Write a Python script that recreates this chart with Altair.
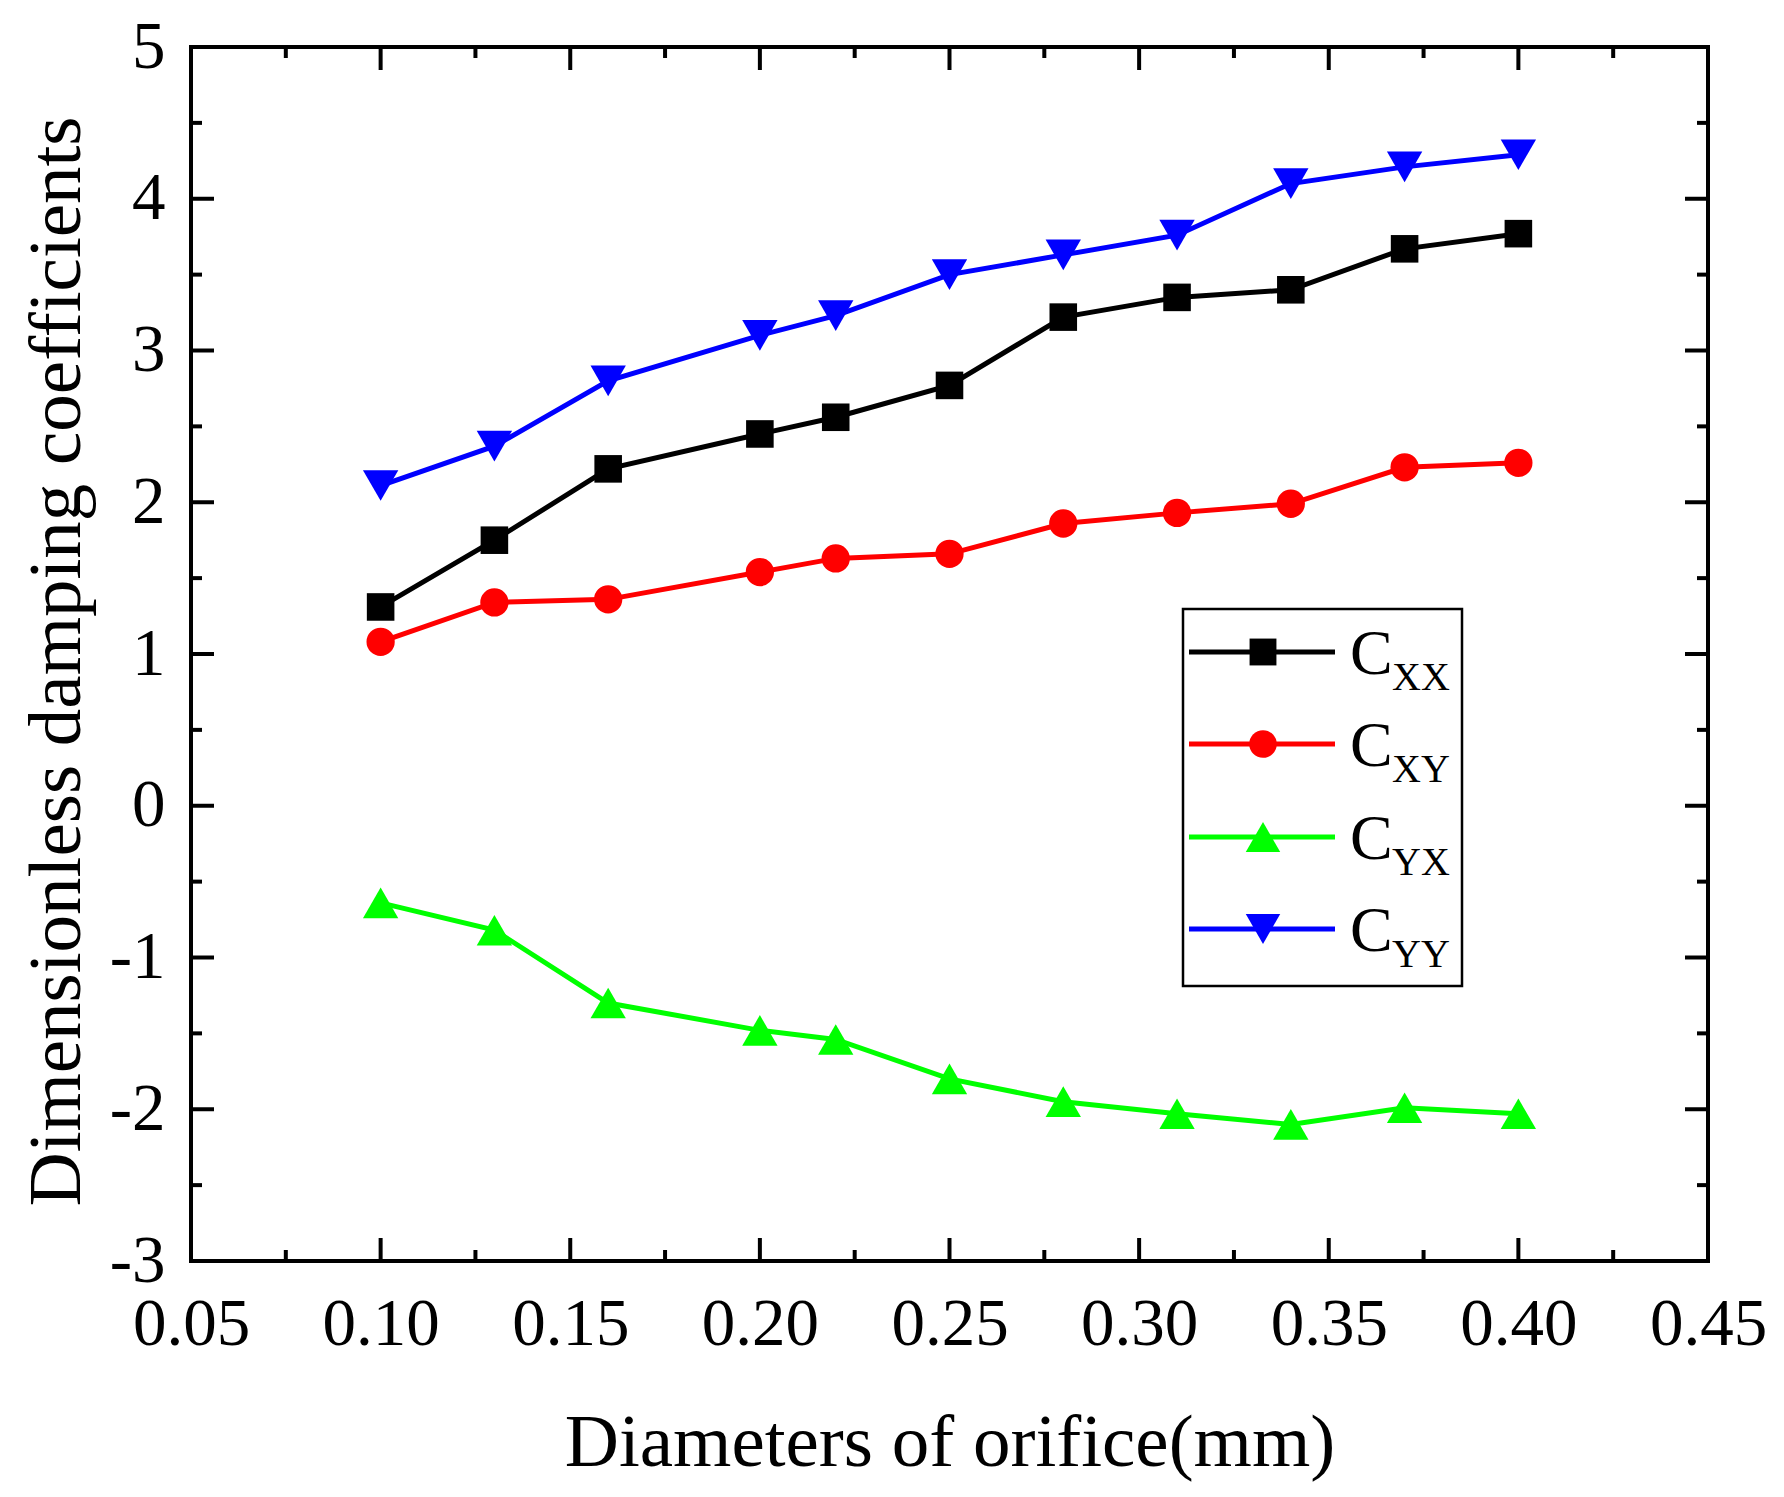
import altair as alt
import pandas as pd

# Orifice diameters (mm) and the four dimensionless damping coefficients
diameters = [0.10, 0.13, 0.16, 0.20, 0.22, 0.25, 0.28, 0.31, 0.34, 0.37, 0.40]
c_xx = [1.31, 1.75, 2.22, 2.45, 2.56, 2.77, 3.22, 3.35, 3.40, 3.67, 3.77]
c_xy = [1.08, 1.34, 1.36, 1.54, 1.63, 1.66, 1.86, 1.93, 1.99, 2.23, 2.26]
c_yx = [-0.64, -0.82, -1.30, -1.48, -1.54, -1.80, -1.95, -2.03, -2.10, -1.99, -2.03]
c_yy = [2.11, 2.37, 2.80, 3.10, 3.23, 3.50, 3.63, 3.76, 4.10, 4.21, 4.29]

series_names = ["CXX", "CXY", "CYX", "CYY"]
series_subs = ["XX", "XY", "YX", "YY"]
series_colors = ["#000000", "#FF0000", "#00FF00", "#0000FF"]
series_shapes = ["square", "circle", "triangle-up", "triangle-down"]
series_sizes = [760, 800, 1250, 1250]

x_major = [0.05, 0.10, 0.15, 0.20, 0.25, 0.30, 0.35, 0.40, 0.45]
x_minor = [0.075, 0.125, 0.175, 0.225, 0.275, 0.325, 0.375, 0.425]
y_major = [-3, -2, -1, 0, 1, 2, 3, 4, 5]
y_minor = [-2.5, -1.5, -0.5, 0.5, 1.5, 2.5, 3.5, 4.5]

W, H = 1517, 1214
FONT = "Liberation Serif"
MAJOR_LEN, MINOR_LEN = 23, 11
X_TITLE = "Diameters of orifice(mm)"
Y_TITLE = "Dimensionless damping coefficients"

rows = []
for name, vals in zip(series_names, [c_xx, c_xy, c_yx, c_yy]):
    for d, v in zip(diameters, vals):
        rows.append({"series": name, "d": d, "v": v})
df = pd.DataFrame(rows)

xs = alt.Scale(domain=[0.05, 0.45], nice=False, zero=False)
ys = alt.Scale(domain=[-3, 5], nice=False, zero=False)

x_axis = alt.Axis(
    values=x_major, format=".2f", ticks=False, domain=False, grid=False,
    labelFlush=False, labelOverlap=False,
    labelFont=FONT, labelFontSize=67, labelColor="black", labelPadding=30,
    titleFont=FONT, titleFontSize=75,
    titleFontWeight="normal", titleColor="black",
    titleX=W / 2, titleY=204, titleBaseline="alphabetic", titleAlign="center",
)
y_axis = alt.Axis(
    values=y_major, ticks=False, domain=False, grid=False,
    labelFlush=False, labelOverlap=False,
    labelExpr="datum.value < 0 ? '-' + abs(datum.value) : '' + datum.value",
    labelFont=FONT, labelFontSize=67, labelColor="black", labelPadding=26,
    titleFont=FONT, titleFontSize=75,
    titleFontWeight="normal", titleColor="black", titleAngle=-90,
    titleX=-112, titleY=614, titleBaseline="alphabetic", titleAlign="center",
)


def X(field):
    return alt.X(field, scale=xs, axis=x_axis, title=X_TITLE)


def Y(field):
    return alt.Y(field, scale=ys, axis=y_axis, title=Y_TITLE)


base = alt.Chart(df)
lines = []
points = []
for name, col, shp, sz in zip(series_names, series_colors, series_shapes, series_sizes):
    sub = base.transform_filter(alt.datum.series == name)
    lines.append(
        sub.mark_line(strokeWidth=5, color=col).encode(x=X("d:Q"), y=Y("v:Q"), order="d:Q")
    )
    points.append(
        sub.mark_point(shape=shp, size=sz, filled=True, opacity=1, color=col, strokeWidth=0).encode(
            x=X("d:Q"), y=Y("v:Q"))
    )


# Inward-pointing ticks on all four sides
def xticks(vals, length):
    t = pd.DataFrame({"d": vals})
    bottom = alt.Chart(t).mark_rule(strokeWidth=4, color="black").encode(
        x=X("d:Q"), y=alt.value(H), y2=alt.value(H - length))
    top = alt.Chart(t).mark_rule(strokeWidth=4, color="black").encode(
        x=X("d:Q"), y=alt.value(0), y2=alt.value(length))
    return [bottom, top]


def yticks(vals, length):
    t = pd.DataFrame({"v": vals})
    left = alt.Chart(t).mark_rule(strokeWidth=4, color="black").encode(
        y=Y("v:Q"), x=alt.value(0), x2=alt.value(length))
    right = alt.Chart(t).mark_rule(strokeWidth=4, color="black").encode(
        y=Y("v:Q"), x=alt.value(W), x2=alt.value(W - length))
    return [left, right]


ticks = xticks(x_major, MAJOR_LEN) + xticks(x_minor, MINOR_LEN) + \
    yticks(y_major, MAJOR_LEN) + yticks(y_minor, MINOR_LEN)

# Legend with subscripted labels
one = pd.DataFrame({"k": [0]})
box_x0, box_x1, box_y0, box_y1 = 992, 1271, 562, 939
row_y = [605, 697, 790, 882]
legend = [
    alt.Chart(one).mark_rect(fill="white", stroke="black", strokeWidth=2.5).encode(
        x=alt.value(box_x0), x2=alt.value(box_x1), y=alt.value(box_y0), y2=alt.value(box_y1))
]
for ry, sub_txt, col, shp, sz in zip(row_y, series_subs, series_colors, series_shapes, series_sizes):
    legend.append(alt.Chart(one).mark_rule(strokeWidth=5, color=col).encode(
        x=alt.value(998), x2=alt.value(1144), y=alt.value(ry)))
    legend.append(alt.Chart(one).mark_point(shape=shp, size=sz * 0.95, filled=True, opacity=1,
                                            color=col, strokeWidth=0).encode(
        x=alt.value(1072), y=alt.value(ry)))
    legend.append(alt.Chart(one).mark_text(text="C", font=FONT, fontSize=64, align="left",
                                           baseline="alphabetic", color="black").encode(
        x=alt.value(1159), y=alt.value(ry + 22)))
    legend.append(alt.Chart(one).mark_text(text=sub_txt, font=FONT, fontSize=40, align="left",
                                           baseline="alphabetic", color="black").encode(
        x=alt.value(1201), y=alt.value(ry + 38)))

chart = alt.layer(*lines, *points, *ticks, *legend).properties(
    width=W, height=H,
    autosize=alt.AutoSizeParams(type="none"),
    padding={"left": 191, "top": 47, "right": 1784 - 191 - W, "bottom": 1497 - 47 - H},
    background="white",
).configure_view(stroke="black", strokeWidth=4)

chart.save("out.html", embed_options={"renderer": "svg", "actions": False})
